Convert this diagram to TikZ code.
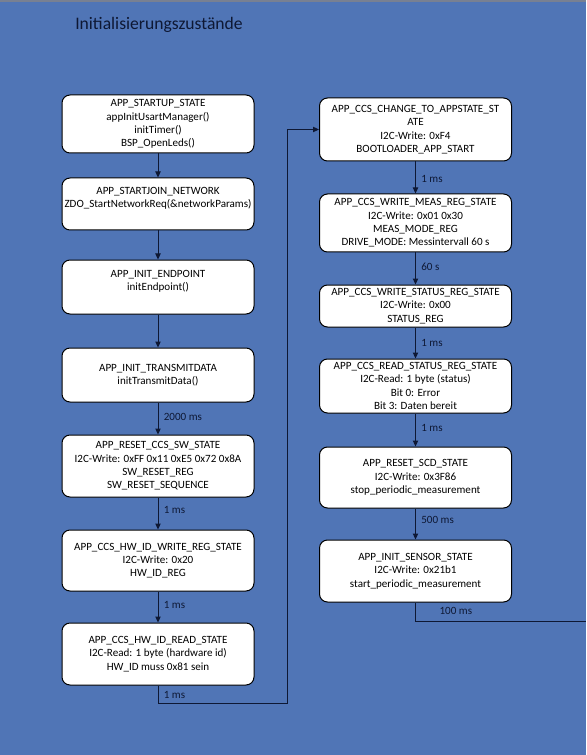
\documentclass[tikz,border=0pt]{standalone}
\usepackage{fontspec}
\setmainfont{Carlito}
\usetikzlibrary{arrows.meta}
\definecolor{bgblue}{RGB}{80,117,182}
\definecolor{navy}{RGB}{14,24,52}
\definecolor{topgray}{RGB}{120,128,146}
\begin{document}
\begin{tikzpicture}[x=0.75pt,y=-0.75pt,
  box/.style={draw=black, line width=0.75pt, fill=white, rounded corners=6pt,
    minimum width=144pt, align=center, inner sep=0pt,
    font=\fontsize{8.3}{10}\selectfont},
  conn/.style={draw=navy, line width=0.75pt},
  arr/.style={conn, -{Triangle[length=4.5pt,width=4pt]}},
  lbl/.style={font=\fontsize{8.3}{10}\selectfont, text=navy, anchor=west, inner sep=0pt, xshift=4pt}
]
\useasboundingbox (0,0) rectangle (586,755);
\fill[bgblue] (0,0) rectangle (586,755);
\draw[topgray, line width=1.2pt] (0,1) -- (586,1);

\node[font=\fontsize{13.2}{16}\selectfont, text=navy, anchor=west, inner sep=0pt] (title) at (75,25) {Initialisierungszustände};

% left column
\node[box, minimum height={58*0.75pt}] (L1) at (158,124) {APP\_STARTUP\_STATE\\appInitUsartManager()\\initTimer()\\BSP\_OpenLeds()};
\node[box, minimum height={52*0.75pt}] (L2) at (158,204) {APP\_STARTJOIN\_NETWORK\\ZDO\_StartNetworkReq(\&networkParams)\\\mbox{}};
\node[box, minimum height={54*0.75pt}] (L3) at (158,287) {APP\_INIT\_ENDPOINT\\initEndpoint()\\\mbox{}};
\node[box, minimum height={54*0.75pt}] (L4) at (158,375) {APP\_INIT\_TRANSMITDATA\\initTransmitData()};
\node[box, minimum height={62*0.75pt}] (L5) at (158,466) {APP\_RESET\_CCS\_SW\_STATE\\I2C-Write: 0xFF 0x11 0xE5 0x72 0x8A\\SW\_RESET\_REG\\SW\_RESET\_SEQUENCE};
\node[box, minimum height={61*0.75pt}] (L6) at (158,560.5) {APP\_CCS\_HW\_ID\_WRITE\_REG\_STATE\\I2C-Write: 0x20\\HW\_ID\_REG};
\node[box, minimum height={62*0.75pt}] (L7) at (158,654) {APP\_CCS\_HW\_ID\_READ\_STATE\\I2C-Read: 1 byte (hardware id)\\HW\_ID muss 0x81 sein};

% right column
\node[box, minimum height={63*0.75pt}] (R1) at (415.5,129.5) {APP\_CCS\_CHANGE\_TO\_APPSTATE\_ST\\ATE\\I2C-Write: 0xF4\\BOOTLOADER\_APP\_START};
\node[box, minimum height={58*0.75pt}] (R2) at (415.5,223) {APP\_CCS\_WRITE\_MEAS\_REG\_STATE\\I2C-Write: 0x01 0x30\\MEAS\_MODE\_REG\\DRIVE\_MODE: Messintervall 60 s};
\node[box, minimum height={42*0.75pt}] (R3) at (415.5,306) {APP\_CCS\_WRITE\_STATUS\_REG\_STATE\\I2C-Write: 0x00\\STATUS\_REG};
\node[box, minimum height={54*0.75pt}] (R4) at (415.5,386) {APP\_CCS\_READ\_STATUS\_REG\_STATE\\I2C-Read: 1 byte (status)\\Bit 0: Error\\Bit 3: Daten bereit};
\node[box, minimum height={61*0.75pt}] (R5) at (415.5,477.5) {APP\_RESET\_SCD\_STATE\\I2C-Write: 0x3F86\\stop\_periodic\_measurement};
\node[box, minimum height={62*0.75pt}] (R6) at (415.5,571) {APP\_INIT\_SENSOR\_STATE\\I2C-Write: 0x21b1\\start\_periodic\_measurement};

% left arrows
\draw[arr] (L1) -- (L2);
\draw[arr] (L2) -- (L3);
\draw[arr] (L3) -- (L4);
\draw[arr] (L4) -- node[lbl, pos=0.45] {2000 ms} (L5);
\draw[arr] (L5) -- node[lbl, pos=0.38] {1 ms} (L6);
\draw[arr] (L6) -- node[lbl, pos=0.45] {1 ms} (L7);

% feedback connector
\coordinate (fb1) at (158,703);
\coordinate (fb2) at (287,703);
\coordinate (fb3) at (287,129.5);
\draw[conn] (L7.south) -- node[lbl, pos=0.55] {1 ms} (fb1);
\draw[arr] (fb1) -- (fb2) -- (fb3) -- (R1.west);

% right arrows
\draw[arr] (R1) -- node[lbl, pos=0.55] {1 ms} (R2);
\draw[arr] (R2) -- node[lbl, pos=0.45] {60 s} (R3);
\draw[arr] (R3) -- node[lbl, pos=0.5] {1 ms} (R4);
\draw[arr] (R4) -- node[lbl, pos=0.45] {1 ms} (R5);
\draw[arr] (R5) -- node[lbl, pos=0.38] {500 ms} (R6);

% exit connector
\coordinate (ex1) at (415.5,621);
\coordinate (ex2) at (586,621);
\draw[conn] (R6.south) -- (ex1) -- (ex2);
\node[lbl, xshift=0pt] (l100) at (434,611) {100 ms};
\end{tikzpicture}
\end{document}
